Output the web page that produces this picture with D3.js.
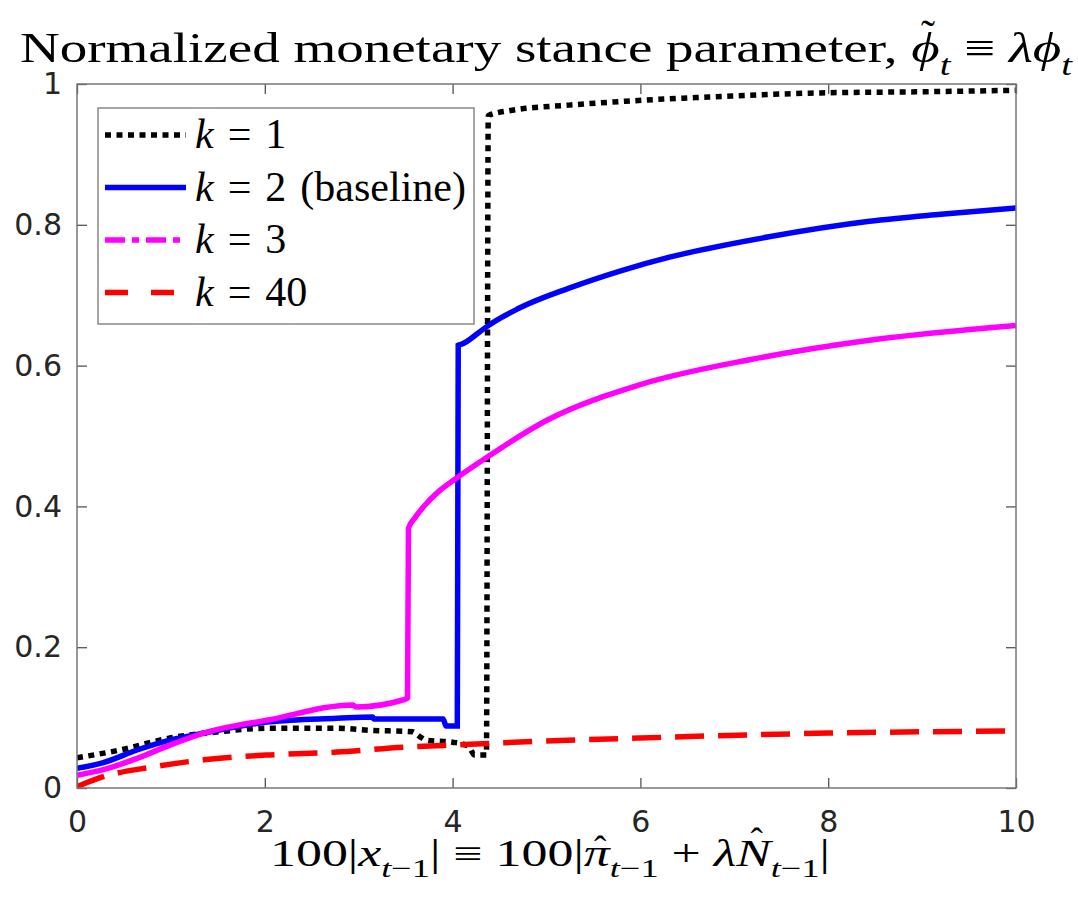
<!DOCTYPE html>
<html>
<head>
<meta charset="utf-8">
<script src="https://cdn.jsdelivr.net/npm/d3@7"></script>
<style>
  body { margin: 0; background: #fff; }
  .tick text { font-family: "DejaVu Sans", sans-serif; fill: #262626; }
  .serif { font-family: "Liberation Serif", "DejaVu Serif", serif; fill: #000; }
</style>
</head>
<body>
<svg id="chart"></svg>
<script>
// values
var xTicks = [0, 2, 4, 6, 8, 10];
var yTicks = [0, 0.2, 0.4, 0.6, 0.8, 1];

var k1X = [0, 0.46, 0.99, 1.52, 2.05, 2.77, 3.12, 3.57, 3.65, 3.72, 4.0, 4.12, 4.18, 4.23, 4.36, 4.38, 4.6, 5.24, 5.9, 6.8, 7.8, 9, 10];
var k1Y = [0.043, 0.054, 0.071, 0.080, 0.085, 0.085, 0.082, 0.080, 0.073, 0.068, 0.065, 0.062, 0.058, 0.047, 0.047, 0.955, 0.962, 0.970, 0.976, 0.982, 0.987, 0.989, 0.991];

var k2X = [0, 0.28, 0.64, 0.99, 1.35, 2.05, 2.77, 3.15, 3.16, 3.9, 3.93, 4.05, 4.06, 4.09, 4.28, 4.36, 4.7, 5.24, 5.8, 6.31, 7.37, 8.44, 9.2, 10];
var k2Y = [0.028, 0.036, 0.054, 0.068, 0.078, 0.094, 0.099, 0.101, 0.098, 0.098, 0.088, 0.088, 0.629, 0.630, 0.647, 0.655, 0.681, 0.710, 0.735, 0.754, 0.783, 0.805, 0.815, 0.824];

var k3X = [0, 0.28, 0.64, 0.99, 1.35, 2.05, 2.94, 2.97, 3.47, 3.52, 3.53, 3.6, 3.7, 3.85, 4.04, 4.29, 5, 6, 7.19, 8.44, 10];
var k3Y = [0.018, 0.026, 0.042, 0.061, 0.078, 0.097, 0.118, 0.115, 0.125, 0.128, 0.369, 0.384, 0.401, 0.421, 0.440, 0.463, 0.522, 0.573, 0.609, 0.636, 0.657];

var k40X = [0, 0.28, 0.81, 1.35, 2.05, 2.77, 3.47, 4.18, 4.5, 6, 8, 10];
var k40Y = [0.002, 0.016, 0.030, 0.040, 0.047, 0.051, 0.058, 0.062, 0.064, 0.071, 0.078, 0.081];

var legendLabels = ["1", "2", "3", "40"];

var width = 1078,
    height = 900;

var svg = d3.select("#chart")
    .attr("width", width)
    .attr("height", height);

var x = d3.scaleLinear().domain([0, 10]).range([77, 1016]);
var y = d3.scaleLinear().domain([0, 1]).range([788, 84]);

var series = [
    { xs: k1X, ys: k1Y, color: "#000000", dash: "6,5.5", legendDash: "6,5.5" },
    { xs: k2X, ys: k2Y, color: "#0000ff", dash: null, legendDash: null },
    { xs: k3X, ys: k3Y, color: "#ff00ff", dash: null, legendDash: "20,7,7,7" },
    { xs: k40X, ys: k40Y, color: "#ff0000", dash: "29,14", legendDash: "23,23" }
];

svg.append("defs").append("clipPath").attr("id", "plotclip")
    .append("rect")
    .attr("x", x(0)).attr("y", y(1))
    .attr("width", x(10) - x(0)).attr("height", y(0) - y(1));

// axes with inward ticks on all four sides
svg.append("g")
    .attr("transform", "translate(0," + y(0) + ")")
    .call(d3.axisBottom(x).tickValues(xTicks).tickSizeInner(-10).tickSizeOuter(0).tickPadding(23))
    .call(function(g) { g.select(".domain").remove(); })
    .selectAll("text").attr("font-size", "30px");

svg.append("g")
    .attr("transform", "translate(" + x(0) + ",0)")
    .call(d3.axisLeft(y).tickValues(yTicks).tickFormat(d3.format("~g")).tickSizeInner(-10).tickSizeOuter(0).tickPadding(15))
    .call(function(g) { g.select(".domain").remove(); })
    .selectAll("text").attr("font-size", "30px");

svg.append("g")
    .attr("transform", "translate(0," + y(1) + ")")
    .call(d3.axisTop(x).tickValues(xTicks).tickFormat("").tickSizeInner(-10).tickSizeOuter(0))
    .call(function(g) { g.select(".domain").remove(); });

svg.append("g")
    .attr("transform", "translate(" + x(10) + ",0)")
    .call(d3.axisRight(y).tickValues(yTicks).tickFormat("").tickSizeInner(-10).tickSizeOuter(0))
    .call(function(g) { g.select(".domain").remove(); });

svg.selectAll(".tick line").attr("stroke", "#555").attr("stroke-width", 1.3);

var line = d3.line()
    .curve(d3.curveMonotoneX)
    .x(function(d) { return x(d[0]); })
    .y(function(d) { return y(d[1]); });

var plot = svg.append("g").attr("clip-path", "url(#plotclip)");

series.forEach(function(s) {
    var pts = s.xs.map(function(v, i) { return [v, s.ys[i]]; });
    plot.append("path")
        .datum(pts)
        .attr("d", line)
        .attr("fill", "none")
        .attr("stroke", s.color)
        .attr("stroke-width", 5.5)
        .attr("stroke-dasharray", s.dash);
});

svg.append("rect")
    .attr("x", x(0)).attr("y", y(1))
    .attr("width", x(10) - x(0)).attr("height", y(0) - y(1))
    .attr("fill", "none")
    .attr("stroke", "#777")
    .attr("stroke-width", 1.5);

// write a line of math-ish text as tspans; accents are placed afterwards
function mathText(sel, parts, size, baseY) {
    var shift = 0;
    var accents = [];
    parts.forEach(function(p) {
        var want = p.sub ? size * 0.3 : 0;
        var t = sel.append("tspan")
            .text(p.t)
            .attr("font-size", (p.sub ? size * 0.7 : size) + "px")
            .attr("dy", want - shift);
        if (p.it) t.attr("font-style", "italic");
        if (p.acc) accents.push({ node: t.node(), acc: p.acc, lift: p.lift, size: size });
        shift = want;
    });
    accents.forEach(function(a) {
        var bb = a.node.getBBox();
        d3.select(sel.node().parentNode).append("text")
            .attr("class", "serif")
            .attr("x", bb.x + bb.width / 2 + a.size * 0.06)
            .attr("y", baseY - a.size * a.lift)
            .attr("text-anchor", "middle")
            .attr("font-size", a.size * 1.0 + "px")
            .text(a.acc);
    });
}

// title
var title = svg.append("text")
    .attr("class", "serif")
    .attr("x", 20).attr("y", 62)
    .attr("textLength", 1052)
    .attr("lengthAdjust", "spacingAndGlyphs");
mathText(title, [
    { t: "Normalized monetary stance parameter, " },
    { t: "ϕ", it: true, acc: "˜", lift: 0.32 },
    { t: "t", it: true, sub: true },
    { t: " ≡ " },
    { t: "λϕ", it: true },
    { t: "t", it: true, sub: true }
], 42, 62);

// x label
var xlab = svg.append("text")
    .attr("class", "serif")
    .attr("x", 270).attr("y", 866)
    .attr("textLength", 560)
    .attr("lengthAdjust", "spacingAndGlyphs");
mathText(xlab, [
    { t: "100|" },
    { t: "x", it: true },
    { t: "t", it: true, sub: true },
    { t: "−1", sub: true },
    { t: "| ≡ 100|" },
    { t: "π", it: true, acc: "ˆ", lift: 0.12 },
    { t: "t", it: true, sub: true },
    { t: "−1", sub: true },
    { t: " + " },
    { t: "λ", it: true },
    { t: "N", it: true, acc: "ˆ", lift: 0.32 },
    { t: "t", it: true, sub: true },
    { t: "−1", sub: true },
    { t: "|" }
], 37, 866);

// legend
var legend = svg.append("g");
legend.append("rect")
    .attr("x", 98).attr("y", 108)
    .attr("width", 376).attr("height", 216)
    .attr("fill", "#fff")
    .attr("stroke", "#777")
    .attr("stroke-width", 1.3);

series.forEach(function(s, i) {
    var ly = 135 + i * 52.5;
    legend.append("line")
        .attr("x1", 105).attr("x2", 186)
        .attr("y1", ly).attr("y2", ly)
        .attr("stroke", s.color)
        .attr("stroke-width", 5.5)
        .attr("stroke-dasharray", s.legendDash);
    var t = legend.append("text")
        .attr("class", "serif")
        .attr("x", 195).attr("y", ly + 13);
    var parts = [{ t: "k", it: true }, { t: "\u2004=\u2004" + legendLabels[i] }];
    if (i === 1) parts.push({ t: "\u2004(baseline)" });
    mathText(t, parts, 42, ly + 13);
});
</script>
</body>
</html>
